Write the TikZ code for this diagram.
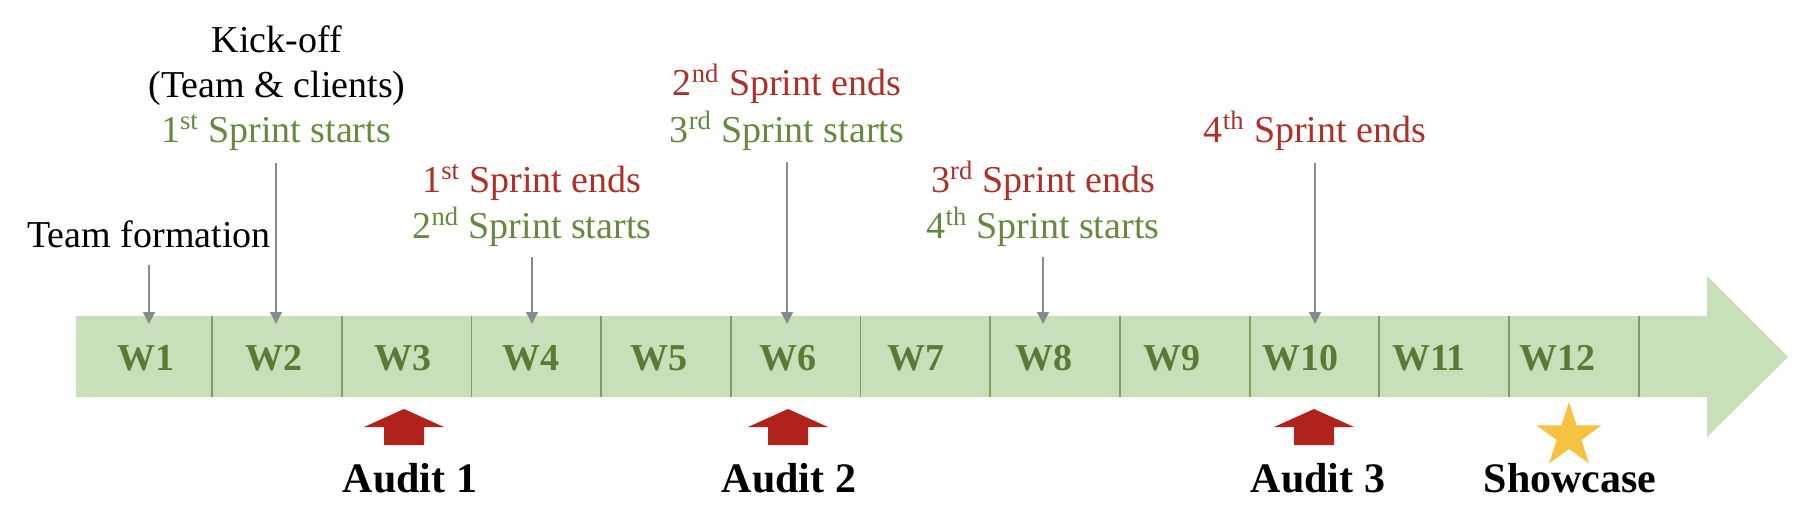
\documentclass[tikz,border=0pt]{standalone}
\usepackage{fontspec}
\setmainfont{Liberation Serif}
\usetikzlibrary{arrows.meta,shapes.geometric}
\definecolor{barfill}{HTML}{C9DFB9}
\definecolor{divcol}{HTML}{7E9E62}
\definecolor{wgreen}{HTML}{5C7A36}
\definecolor{tgreen}{HTML}{66893F}
\definecolor{tred}{HTML}{AD3128}
\definecolor{auditred}{HTML}{B0231A}
\definecolor{conngray}{HTML}{8A8A8A}
\definecolor{stargold}{HTML}{F5C242}
\begin{document}
\begin{tikzpicture}[x=0.5pt,y=-0.5pt,
  lbl/.style={font=\fontsize{19}{22}\selectfont, inner sep=0pt, anchor=base},
  wk/.style={font=\fontsize{19}{22}\selectfont\bfseries, text=wgreen, inner sep=0pt, anchor=base},
  audit/.style={font=\fontsize{21}{24}\selectfont\bfseries, inner sep=0pt, anchor=base},
  conn/.style={draw=conngray, line width=0.75pt, -{Triangle[width=6pt,length=6pt]}},
  divider/.style={draw=divcol, line width=0.9pt}]
\useasboundingbox (0,0) rectangle (1808,530);
% bar arrow
\fill[barfill] (76,316) -- (1707,316) -- (1707,276) -- (1788,357) -- (1707,437) -- (1707,397) -- (76,397) -- cycle;
\foreach \k in {0,...,11} \draw[divider] ({212+129.7*\k},316) -- ({212+129.7*\k},397);
\foreach \i in {1,...,12} \node[wk] (w\i) at ({146+128.3*(\i-1)},370) {W\i};
% top labels
\node[lbl] (tf) at (149,247) {Team formation};
\node[lbl] (ko1) at (277,52) {Kick-off};
\node[lbl] (ko2) at (277,97) {(Team \& clients)};
\node[lbl,text=tgreen] (ko3) at (276,142) {1\textsuperscript{st} Sprint starts};
\node[lbl,text=tred] (s1e) at (532,192) {1\textsuperscript{st} Sprint ends};
\node[lbl,text=tgreen] (s2s) at (532,238) {2\textsuperscript{nd} Sprint starts};
\node[lbl,text=tred] (s2e) at (787,95) {2\textsuperscript{nd} Sprint ends};
\node[lbl,text=tgreen] (s3s) at (787,142) {3\textsuperscript{rd} Sprint starts};
\node[lbl,text=tred] (s3e) at (1043,192) {3\textsuperscript{rd} Sprint ends};
\node[lbl,text=tgreen] (s4s) at (1043,238) {4\textsuperscript{th} Sprint starts};
\node[lbl,text=tred] (s4e) at (1315,142) {4\textsuperscript{th} Sprint ends};
% connectors
\coordinate (barin) at (0,324);
\draw[conn] ([yshift=-9pt]tf.base) -- (tf.base |- barin);
\draw[conn] ([yshift=-10.5pt]ko3.base) -- (ko3.base |- barin);
\draw[conn] ([yshift=-9.5pt]s2s.base) -- (s2s.base |- barin);
\draw[conn] ([yshift=-10pt]s3s.base) -- (s3s.base |- barin);
\draw[conn] ([yshift=-9.5pt]s4s.base) -- (s4s.base |- barin);
\draw[conn] ([yshift=-10.5pt]s4e.base) -- (s4e.base |- barin);
% audit arrows
\foreach \x in {404,788,1314}
  \fill[auditred] (\x-40,427) -- (\x,409) -- (\x+40,427) -- (\x+20,427) -- (\x+20,445) -- (\x-20,445) -- (\x-20,427) -- cycle;
\node[star, star points=5, star point ratio=2.618, fill=stargold, minimum size=34pt, inner sep=0pt] (star) at (1569,436) {};
% bottom labels
\node[audit] (a1) at (410,492) {Audit 1};
\node[audit] (a2) at (789,492) {Audit 2};
\node[audit] (a3) at (1318,492) {Audit 3};
\node[audit] (sc) at (1570,492) {Showcase};
\end{tikzpicture}
\end{document}
